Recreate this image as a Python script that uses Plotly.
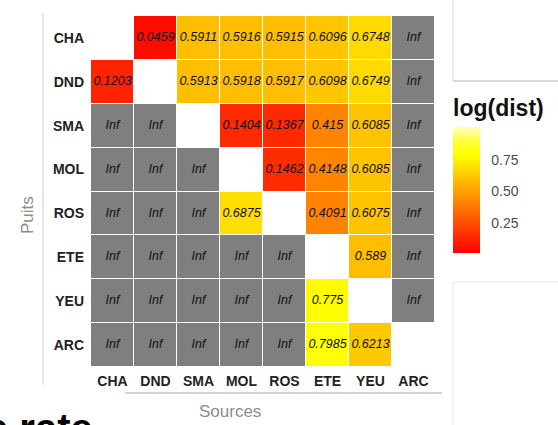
import colorsys
import math

import plotly.graph_objects as go

W, H = 558, 425

sites = ["CHA", "DND", "SMA", "MOL", "ROS", "ETE", "YEU", "ARC"]
INF = math.inf

# log(dist) from each puits (row) to each source (column); None on the diagonal
row_CHA = [None, 0.0459, 0.5911, 0.5916, 0.5915, 0.6096, 0.6748, INF]
row_DND = [0.1203, None, 0.5913, 0.5918, 0.5917, 0.6098, 0.6749, INF]
row_SMA = [INF, INF, None, 0.1404, 0.1367, 0.415, 0.6085, INF]
row_MOL = [INF, INF, INF, None, 0.1462, 0.4148, 0.6085, INF]
row_ROS = [INF, INF, INF, 0.6875, None, 0.4091, 0.6075, INF]
row_ETE = [INF, INF, INF, INF, INF, None, 0.589, INF]
row_YEU = [INF, INF, INF, INF, INF, 0.775, None, INF]
row_ARC = [INF, INF, INF, INF, INF, 0.7985, 0.6213, None]

colorbar_ticks = [0.25, 0.50, 0.75]
colorbar_ticktext = ["0.25", "0.50", "0.75"]

matrix = [row_CHA, row_DND, row_SMA, row_MOL, row_ROS, row_ETE, row_YEU, row_ARC]


def px_x(x):
    return x / W


def px_y(y):
    return 1 - y / H


# heat.colors(10): red -> yellow (8 hues), then yellow fading to pale
heat = []
for k in range(8):
    heat.append(colorsys.hsv_to_rgb(k / 7 / 6, 1, 1))
for s in (0.75, 0.25):
    heat.append(colorsys.hsv_to_rgb(1 / 6, s, 1))
heat_scale = [
    [i / (len(heat) - 1), "rgb(%d,%d,%d)" % tuple(round(c * 255) for c in col)]
    for i, col in enumerate(heat)
]

finite_z = [[v if (v is not None and math.isfinite(v)) else None for v in row] for row in matrix]
inf_z = [[1 if v == INF else None for v in row] for row in matrix]

lab_x, lab_y, lab_text = [], [], []
for puits, row in zip(sites, matrix):
    for source, v in zip(sites, row):
        if v is None:
            continue
        lab_x.append(source)
        lab_y.append(puits)
        lab_text.append("<i>Inf</i>" if v == INF else "<i>%s</i>" % format(v, "g"))

fig = go.Figure()

# unreachable pairs (Inf) drawn in grey
fig.add_trace(go.Heatmap(
    x=sites, y=sites, z=inf_z,
    colorscale=[[0, "#7f7f7f"], [1, "#7f7f7f"]],
    showscale=False, xgap=1, ygap=1, hoverinfo="skip",
))

fig.add_trace(go.Heatmap(
    x=sites, y=sites, z=finite_z,
    colorscale=heat_scale, zmin=0.01, zmax=1.01,
    xgap=1, ygap=1,
    colorbar=dict(
        x=px_x(453), xanchor="left", xpad=0,
        y=px_y(253), yanchor="bottom", ypad=0,
        thickness=27, thicknessmode="pixels",
        len=157, lenmode="pixels",
        outlinewidth=0,
        ticks="outside", tickcolor="white", ticklen=9, tickwidth=1,
        tickvals=colorbar_ticks, ticktext=colorbar_ticktext,
        tickfont=dict(family="Liberation Sans", size=14, color="#4d4d4d"),
        title=dict(text="<b>log(dist)</b>", side="top",
                   font=dict(family="Liberation Sans", size=23, color="#111111")),
    ),
))

fig.add_trace(go.Scatter(
    x=lab_x, y=lab_y, text=lab_text, mode="text",
    textfont=dict(family="Liberation Sans", size=12.5, color="#111111"),
    hoverinfo="skip", showlegend=False,
))

axis_font = dict(family="Liberation Sans", size=14, color="#222222", weight="bold")
title_font = dict(family="Liberation Sans", size=17, color="#8c8c8c")

fig.update_layout(
    width=W, height=H, autosize=False,
    margin=dict(l=0, r=0, t=0, b=0),
    paper_bgcolor="white", plot_bgcolor="white",
    showlegend=False,
    xaxis=dict(
        domain=[px_x(91), px_x(435)],
        type="category", categoryorder="array", categoryarray=sites,
        showgrid=False, zeroline=False, showline=False, ticks="",
        tickfont=axis_font, ticklabelstandoff=4,
    ),
    yaxis=dict(
        domain=[px_y(367), px_y(16)],
        type="category", categoryorder="array", categoryarray=sites,
        autorange="reversed",
        showgrid=False, zeroline=False, showline=False, ticks="",
        tickfont=axis_font, ticklabelstandoff=6,
    ),
    annotations=[
        dict(text="Puits", x=px_x(27), y=px_y(215), xref="paper", yref="paper",
             xanchor="center", yanchor="middle",
             textangle=-90, showarrow=False, font=title_font),
        dict(text="Sources", x=px_x(230), y=px_y(411), xref="paper", yref="paper",
             xanchor="center", yanchor="middle",
             showarrow=False, font=title_font),
        dict(text="<b>e rate</b>", x=px_x(-16), y=px_y(428), xref="paper", yref="paper",
             xanchor="left", yanchor="middle", showarrow=False,
             font=dict(family="Liberation Sans", size=40, color="#000000")),
    ],
    shapes=[
        dict(type="line", xref="paper", yref="paper",
             x0=px_x(43), x1=px_x(43), y0=px_y(13), y1=px_y(385),
             line=dict(color="#cccccc", width=1)),
        dict(type="line", xref="paper", yref="paper",
             x0=px_x(125), x1=px_x(442), y0=px_y(393), y1=px_y(393),
             line=dict(color="#d4d4d4", width=2)),
        dict(type="line", xref="paper", yref="paper",
             x0=px_x(453), x1=px_x(453), y0=px_y(0), y1=px_y(81),
             line=dict(color="#dddddd", width=1)),
        dict(type="line", xref="paper", yref="paper",
             x0=px_x(453), x1=px_x(558), y0=px_y(81), y1=px_y(81),
             line=dict(color="#cfcfcf", width=1.5)),
        dict(type="line", xref="paper", yref="paper",
             x0=px_x(453), x1=px_x(558), y0=px_y(282), y1=px_y(282),
             line=dict(color="#e3e3e3", width=1)),
        dict(type="line", xref="paper", yref="paper",
             x0=px_x(453), x1=px_x(453), y0=px_y(282), y1=px_y(425),
             line=dict(color="#e3e3e3", width=1)),
    ],
)

fig.write_html("out.html")
